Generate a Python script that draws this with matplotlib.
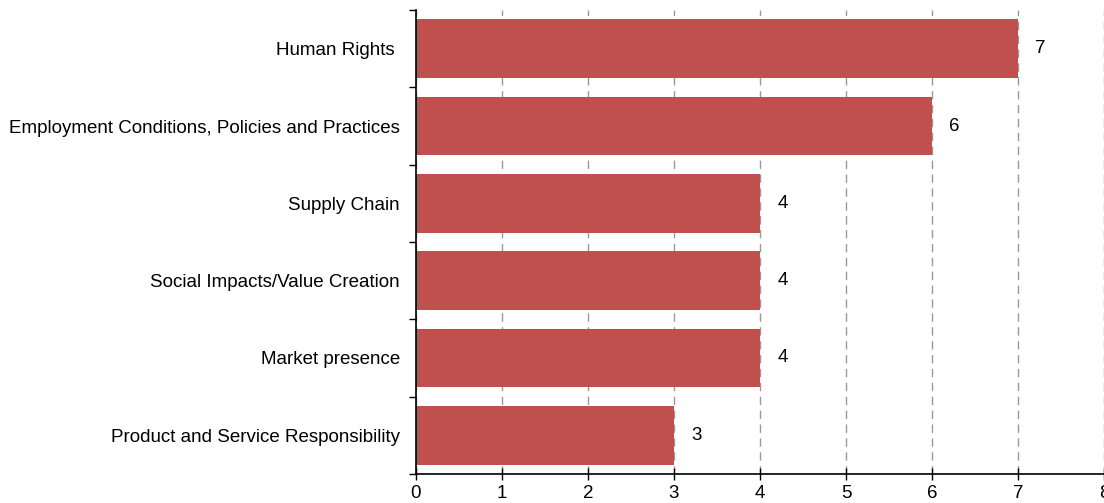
import numpy as np
import matplotlib
matplotlib.use("Agg")
import matplotlib.pyplot as plt

plt.rcParams["font.family"] = ["Liberation Sans", "DejaVu Sans"]

categories = [
    "Human Rights ",
    "Employment Conditions, Policies and Practices",
    "Supply Chain",
    "Social Impacts/Value Creation",
    "Market presence",
    "Product and Service Responsibility",
]
values = [7, 6, 4, 4, 4, 3]
xticks = [0, 1, 2, 3, 4, 5, 6, 7, 8]

BAR = "#C0504D"

fig = plt.figure(figsize=(11.04, 5.03), dpi=100)
ax = fig.add_axes([0.3768, 0.0577, 0.6232, 0.9224])

y = np.arange(len(categories))
ax.barh(y, values, height=0.76, color=BAR, zorder=2)
for yi, v in zip(y, values):
    ax.text(v + 0.2, yi, str(v), va="center", ha="left", fontsize=13.5)

ax.set_xlim(0, 8)
ax.set_ylim(len(categories) - 0.5, -0.5)
ax.set_xticks(xticks)
ax.set_xticklabels([str(t) for t in xticks], fontsize=13.5)
ax.set_yticks(y)
ax.set_yticklabels(categories, fontsize=13.5)
ax.set_yticks(np.arange(len(categories) + 1) - 0.5, minor=True)

ax.tick_params(axis="y", which="major", length=0, pad=11.5)
ax.tick_params(axis="y", which="minor", length=5, width=1, direction="out")
ax.tick_params(axis="x", which="major", length=8, width=1, direction="inout", pad=4)

ax.grid(axis="x", color="#999999", linestyle=(0, (6, 4)), linewidth=1, zorder=0)
for s in ["top", "right"]:
    ax.spines[s].set_visible(False)
ax.spines["left"].set_linewidth(1.2)
ax.spines["bottom"].set_linewidth(1.2)

fig.savefig("out.png", dpi=100)
